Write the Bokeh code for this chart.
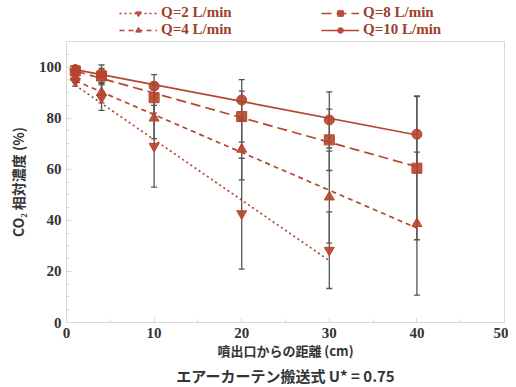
import numpy as np
from bokeh.plotting import figure
from bokeh.layouts import column
from bokeh.models import (ColumnDataSource, Whisker, TeeHead, Legend, LegendItem,
                          SingleIntervalTicker, Title, Range1d)
from bokeh.embed import file_html
from bokeh.resources import INLINE

# ---- data ----
x_all = [1, 4, 10, 20, 30, 40]
x_q2 = [1, 4, 10, 20, 30]

q2_vals = [94.5, 88.0, 69.0, 42.6, 28.3]
q2_err = [2.0, 5.0, 16.0, 21.7, 15.0]

q4_vals = [96.0, 90.0, 80.0, 67.8, 49.1, 38.7]
q4_err = [2.0, 4.0, 8.0, 12.0, 18.0, 28.0]

q8_vals = [98.5, 96.5, 88.0, 80.6, 71.5, 60.4]
q8_err = [1.5, 3.0, 6.0, 10.0, 12.0, 28.0]

q10_vals = [99.0, 97.3, 92.5, 87.1, 79.3, 73.7]
q10_err = [1.5, 3.5, 4.5, 8.0, 11.0, 15.0]

labels = ["Q=2 L/min", "Q=4 L/min", "Q=8 L/min", "Q=10 L/min"]

x_ticks_major = 10
y_ticks_major = 20

RED = "#b5452e"
ERR = "#555555"
FRAME = "#d8d8d8"
SERIF = "Liberation Serif"
JP = "Noto Sans CJK JP"
W = 508

series = [
    (x_q2, q2_vals, q2_err, "inverted_triangle", "2 3", labels[0]),
    (x_all, q4_vals, q4_err, "triangle", "5 4", labels[1]),
    (x_all, q8_vals, q8_err, "square", "10 5", labels[2]),
    (x_all, q10_vals, q10_err, "circle", "solid", labels[3]),
]

# ---- legend strip (library legend drawn in its own small figure) ----
lf = figure(width=W, height=38, output_backend="svg", toolbar_location=None,
            x_axis_type=None, y_axis_type=None, x_range=Range1d(0, 1),
            y_range=Range1d(0, 1), min_border_left=66, min_border_right=4,
            min_border_top=0, min_border_bottom=0)
lf.outline_line_color = None
lf.grid.visible = False

leg_items = {}
for xs, ys, es, marker, dash, lab in series:
    # one off-screen point so the legend has a glyph to sample
    dummy = ColumnDataSource(dict(x=[-5.0, -4.0], y=[-5.0, -5.0]))
    l1 = lf.line("x", "y", source=dummy, line_color=RED, line_width=1.7, line_dash=dash)
    m1 = lf.scatter("x", "y", source=dummy, marker=marker, size=10,
                    fill_color=RED, line_color=RED, fill_alpha=0.9)
    leg_items[lab] = [l1, m1]

def make_legend(labs, x):
    lg = Legend(items=[LegendItem(label=l, renderers=leg_items[l], index=0) for l in labs],
                location=(x, 0), orientation="vertical",
                background_fill_alpha=0, border_line_alpha=0,
                label_text_font=SERIF, label_text_font_style="bold",
                label_text_font_size="15px", label_text_color="#a0402c",
                glyph_width=38, glyph_height=14, label_height=14,
                spacing=0, padding=0, margin=0, label_standoff=4)
    lf.add_layout(lg, "center")

make_legend([labels[0], labels[1]], 53)
make_legend([labels[2], labels[3]], 255)

# ---- main plot ----
p = figure(width=W, height=347, output_backend="svg", toolbar_location=None,
           x_range=Range1d(0, 50), y_range=Range1d(0, 110),
           min_border_left=66, min_border_right=4, min_border_top=3,
           min_border_bottom=20)
p.grid.visible = False
p.outline_line_color = FRAME
p.background_fill_color = "white"

for xs, ys, es, marker, dash, lab in series:
    xa = np.array(xs, dtype=float)
    ya = np.array(ys, dtype=float)
    ea = np.array(es, dtype=float)
    src = ColumnDataSource(dict(x=xa, y=ya, lo=ya - ea, hi=ya + ea))
    w = Whisker(source=src, base="x", upper="hi", lower="lo", dimension="height",
                line_color=ERR, line_width=1.3,
                upper_head=TeeHead(size=6, line_color=ERR, line_width=1.3),
                lower_head=TeeHead(size=6, line_color=ERR, line_width=1.3))
    p.add_layout(w)
    k, b = np.polyfit(xa, ya, 1)
    fx = np.array([xa.min(), xa.max()])
    fsrc = ColumnDataSource(dict(x=fx, y=k * fx + b))
    p.line("x", "y", source=fsrc, line_color=RED, line_width=1.7, line_dash=dash)
    p.scatter("x", "y", source=src, marker=marker, size=10,
              fill_color=RED, line_color=RED, fill_alpha=0.9)

for ax in (p.xaxis[0], p.yaxis[0]):
    ax.axis_line_color = FRAME
    ax.major_tick_line_color = FRAME
    ax.minor_tick_line_color = FRAME
    ax.major_tick_in = 5
    ax.major_tick_out = 0
    ax.minor_tick_in = 3
    ax.minor_tick_out = 0
    ax.major_label_text_font = SERIF
    ax.major_label_text_font_style = "bold"
    ax.major_label_text_font_size = "15px"
    ax.major_label_text_color = "#333333"
    ax.axis_label_text_font = JP
    ax.axis_label_text_font_style = "bold"
    ax.axis_label_text_color = "#333333"

p.xaxis.axis_label_text_font_size = "13px"
p.yaxis.axis_label_text_font_size = "14px"
p.xaxis.ticker = SingleIntervalTicker(interval=x_ticks_major, num_minor_ticks=2)
p.yaxis.ticker = SingleIntervalTicker(interval=y_ticks_major, num_minor_ticks=4)
p.xaxis.axis_label = "噴出口からの距離 (cm)"
p.yaxis.axis_label = "CO₂ 相対濃度 (%)"
p.xaxis.major_label_standoff = 5
p.xaxis.axis_label_standoff = 0
p.yaxis.major_label_standoff = 5
p.yaxis.axis_label_standoff = 8

title = Title(text="エアーカーテン搬送式 U* = 0.75", align="center",
              text_font=JP, text_font_style="bold", text_font_size="15px",
              text_color="#333333", standoff=0, offset=0)
p.add_layout(title, "below")

layout = column(lf, p, spacing=0)
open("out.html", "w").write(file_html(layout, INLINE))
